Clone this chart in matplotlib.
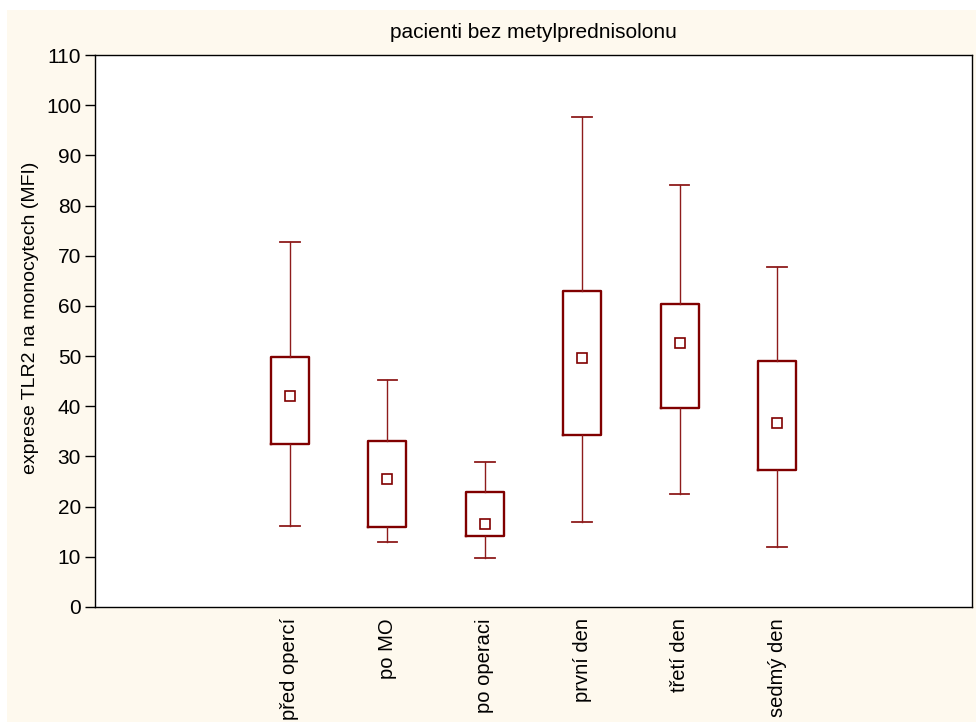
import matplotlib
matplotlib.use("Agg")
import matplotlib.pyplot as plt
from matplotlib.patches import Rectangle

plt.rcParams["font.family"] = ["Liberation Sans", "DejaVu Sans"]

# Data (MFI)
categories = ["před opercí", "po MO", "po operaci", "první den", "třetí den", "sedmý den"]
positions = [2, 3, 4, 5, 6, 7]
whisker_low = [16.2, 13.0, 9.8, 16.9, 22.5, 12.0]
box_low = [32.5, 16.0, 14.2, 34.3, 39.7, 27.3]
centre = [42.0, 25.5, 16.5, 49.6, 52.7, 36.6]
box_high = [49.9, 33.1, 22.9, 63.0, 60.4, 49.1]
whisker_high = [72.7, 45.2, 28.8, 97.6, 84.1, 67.8]

dark_red = "#800000"
line_red = "#8E1B1B"

fig = plt.figure(figsize=(9.76, 7.22), dpi=100, facecolor="white")
# cream panel behind the plot
fig.patches.append(Rectangle((7 / 976, 0), 1, 1 - 10 / 722, transform=fig.transFigure,
                             facecolor="#FEF9EE", edgecolor="none", zorder=-10))

ax = fig.add_axes([95 / 976, 1 - 607 / 722, 877 / 976, 552 / 722])
ax.set_facecolor("white")

stats = []
for i in range(len(categories)):
    stats.append({
        "label": categories[i],
        "whislo": whisker_low[i],
        "q1": box_low[i],
        "med": centre[i],
        "q3": box_high[i],
        "whishi": whisker_high[i],
    })

ax.bxp(
    stats, positions=positions, widths=0.39, capwidths=0.2,
    showfliers=False, patch_artist=False,
    boxprops=dict(color=dark_red, linewidth=1.7),
    whiskerprops=dict(color=line_red, linewidth=1.0),
    capprops=dict(color=line_red, linewidth=1.3),
    medianprops=dict(visible=False),
)
ax.plot(positions, centre, linestyle="none", marker="s", markersize=7,
        markerfacecolor="white", markeredgecolor=dark_red, markeredgewidth=1.2, zorder=5)

ax.set_xlim(0, 9)
ax.set_ylim(0, 110)
ax.set_yticks(range(0, 111, 10))
ax.set_xticks(positions)
ax.set_xticklabels(categories, rotation=90, fontsize=14.5)
ax.tick_params(axis="x", length=0, pad=8)
ax.tick_params(axis="y", length=7, width=1, pad=3, labelsize=15)

for s in ax.spines.values():
    s.set_linewidth(1.0)
    s.set_color("black")

ax.set_title("pacienti bez metylprednisolonu", fontsize=15, pad=12)
ax.set_ylabel("exprese TLR2 na monocytech (MFI)", fontsize=14)
ax.yaxis.set_label_coords(-0.064, 0.524)

fig.savefig("out.png", dpi=100, facecolor=fig.get_facecolor())
